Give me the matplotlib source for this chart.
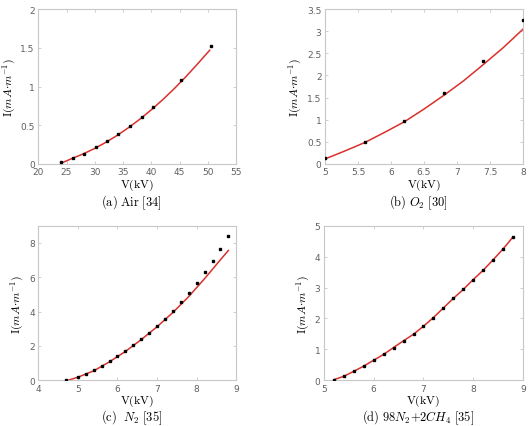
import matplotlib
matplotlib.use("Agg")
import matplotlib.pyplot as plt

plt.rcParams['mathtext.fontset'] = 'cm'
plt.rcParams['font.family'] = 'DejaVu Sans'

# (a) Air
air_v = [24.1, 26.1, 28.1, 30.2, 32.1, 34.1, 36.2, 38.3, 40.2, 45.3, 50.5]
air_i = [0.02, 0.08, 0.13, 0.22, 0.30, 0.38, 0.49, 0.60, 0.73, 1.09, 1.52]
air_fit_v = [24.1, 26, 28, 30, 32, 34, 36, 38, 40, 42, 44, 46, 48, 50.3]
air_fit_i = [0.01, 0.07, 0.13, 0.20, 0.28, 0.37, 0.47, 0.58, 0.70, 0.83, 0.97, 1.12, 1.28, 1.47]

# (b) O2
o2_v = [5.0, 5.6, 6.2, 6.8, 7.4, 8.0]
o2_i = [0.13, 0.49, 0.97, 1.61, 2.32, 3.25]
o2_fit_v = [5.0, 5.3, 5.6, 5.9, 6.2, 6.5, 6.8, 7.1, 7.4, 7.7, 8.0]
o2_fit_i = [0.11, 0.29, 0.48, 0.71, 0.95, 1.24, 1.55, 1.88, 2.25, 2.63, 3.05]

# (c) N2
n2_v = [4.7, 5.0, 5.2, 5.4, 5.6, 5.8, 6.0, 6.2, 6.4, 6.6, 6.8, 7.0, 7.2, 7.4, 7.6,
        7.8, 8.0, 8.2, 8.4, 8.6, 8.8]
n2_i = [0.02, 0.21, 0.38, 0.61, 0.86, 1.15, 1.42, 1.70, 2.07, 2.39, 2.78, 3.16, 3.58,
        4.06, 4.57, 5.09, 5.65, 6.28, 6.93, 7.62, 8.38]
n2_fit_v = [4.75, 5.0, 5.4, 5.8, 6.2, 6.6, 7.0, 7.4, 7.8, 8.2, 8.6, 8.8]
n2_fit_i = [0.0, 0.18, 0.55, 1.08, 1.68, 2.37, 3.12, 3.95, 4.88, 5.92, 7.02, 7.56]

# (d) 98N2 + 2CH4
mix_v = [5.2, 5.4, 5.6, 5.8, 6.0, 6.2, 6.4, 6.6, 6.8, 7.0, 7.2, 7.4, 7.6, 7.8, 8.0,
         8.2, 8.4, 8.6, 8.8]
mix_i = [0.02, 0.13, 0.29, 0.46, 0.65, 0.84, 1.06, 1.28, 1.49, 1.75, 2.03, 2.34, 2.65,
         2.94, 3.26, 3.56, 3.90, 4.25, 4.64]

panels = [
    dict(pos=[0.072, 0.614, 0.373, 0.362], v=air_v, i=air_i, fv=air_fit_v, fi=air_fit_i,
         xlim=(20, 55), ylim=(0, 2), xt=[20, 25, 30, 35, 40, 45, 50, 55],
         yt=[0, 0.5, 1, 1.5, 2], cap=r'$\mathrm{(a)\ Air\ [34]}$', cy=0.525),
    dict(pos=[0.612, 0.614, 0.373, 0.362], v=o2_v, i=o2_i, fv=o2_fit_v, fi=o2_fit_i,
         xlim=(5, 8), ylim=(0, 3.5), xt=[5, 5.5, 6, 6.5, 7, 7.5, 8],
         yt=[0, 0.5, 1, 1.5, 2, 2.5, 3, 3.5], cap=r'$\mathrm{(b)}\ O_2\ \mathrm{[30]}$', cy=0.525),
    dict(pos=[0.072, 0.107, 0.373, 0.362], v=n2_v, i=n2_i, fv=n2_fit_v, fi=n2_fit_i,
         xlim=(4, 9), ylim=(0, 9), xt=[4, 5, 6, 7, 8, 9],
         yt=[0, 2, 4, 6, 8], cap=r'$\mathrm{(c)}\ \ N_2\ \mathrm{[35]}$', cy=0.021),
    dict(pos=[0.610, 0.107, 0.375, 0.362], v=mix_v, i=mix_i, fv=mix_v, fi=mix_i,
         xlim=(5, 9), ylim=(0, 5), xt=[5, 6, 7, 8, 9],
         yt=[0, 1, 2, 3, 4, 5], cap=r'$\mathrm{(d)\ 98}N_2\mathrm{+2}CH_4\ \mathrm{[35]}$', cy=0.021),
]

fig = plt.figure(figsize=(5.31, 4.27), dpi=100)
for p in panels:
    ax = fig.add_axes(p['pos'])
    ax.plot(p['fv'], p['fi'], color='#d9302c', lw=1.1, zorder=2)
    ax.plot(p['v'], p['i'], 's', color='black', ms=2.1, zorder=3)
    ax.set_xlim(p['xlim'])
    ax.set_ylim(p['ylim'])
    ax.set_xticks(p['xt'])
    ax.set_yticks(p['yt'])
    ax.set_xticklabels([('%g' % t) for t in p['xt']])
    ax.set_yticklabels([('%g' % t) for t in p['yt']])
    for s in ax.spines.values():
        s.set_color('#c8c8c8')
        s.set_linewidth(0.8)
    ax.tick_params(direction='in', length=2.5, width=0.6, color='#c8c8c8',
                   labelsize=6.5, labelcolor='#606060', pad=2.5,
                   top=True, right=True)
    ax.set_xlabel(r'$\mathrm{V(kV)}$', fontsize=8.5, labelpad=0)
    ax.set_ylabel(r'$\mathrm{I}(mA{\cdot}m^{-1})$', fontsize=8.5, labelpad=2)
    x0, y0, w, h = p['pos']
    fig.text(x0 + w / 2 - 0.01, p['cy'], p['cap'], ha='center', va='center', fontsize=9)

fig.savefig('out.png', dpi=100)
